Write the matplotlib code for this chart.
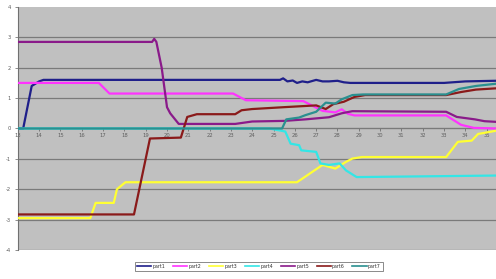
import matplotlib
matplotlib.use("Agg")
import matplotlib.pyplot as plt

series_names = ["part1", "part2", "part3", "part4", "part5", "part6", "part7"]
series_colors = ["#1f1f8a", "#ff33ff", "#ffff33", "#33e6e6", "#8a1a8a", "#8a1a1a", "#2a9090"]

part1_x = [13, 13.25, 13.65, 14.0, 14.2, 25.3, 25.45, 25.65, 25.9, 26.1, 26.35, 26.6, 27.0, 27.3, 27.6, 28.0, 28.3, 28.6, 33.0, 34.0, 35.4]
part1_y = [0, 0, 1.4, 1.55, 1.6, 1.6, 1.65, 1.55, 1.58, 1.5, 1.55, 1.52, 1.6, 1.55, 1.55, 1.57, 1.52, 1.5, 1.5, 1.55, 1.57]

part2_x = [13, 16.8, 17.3, 23.1, 23.7, 26.4, 27.3, 27.9, 28.2, 28.5, 28.8, 33.1, 33.8, 34.4, 35.4]
part2_y = [1.5, 1.5, 1.15, 1.15, 0.93, 0.9, 0.58, 0.53, 0.63, 0.48, 0.43, 0.43, 0.12, 0.02, 0.0]

part3_x = [13, 16.4, 16.65, 17.5, 17.65, 18.05, 26.1, 27.3, 27.9, 28.4, 28.7, 29.15, 33.1, 33.65, 34.3, 34.6, 35.4]
part3_y = [-2.95, -2.95, -2.45, -2.45, -2.0, -1.77, -1.77, -1.2, -1.32, -1.1, -0.99, -0.94, -0.94, -0.44, -0.4, -0.18, -0.08]

part4_x = [13, 24.8, 25.4, 25.55, 25.8, 26.2, 26.3, 27.0, 27.2, 27.6, 28.1, 28.4, 28.9, 35.4]
part4_y = [0, 0, -0.08, -0.1, -0.5, -0.55, -0.72, -0.77, -1.15, -1.2, -1.15, -1.38, -1.6, -1.55]

part5_x = [13, 19.3, 19.4, 19.5, 19.75, 20.0, 20.15, 20.55, 23.2, 24.0, 25.5, 26.5, 27.6, 28.2, 28.7, 33.1, 33.6, 34.45, 34.9, 35.4]
part5_y = [2.85, 2.85, 2.95, 2.85, 2.0, 0.7, 0.5, 0.15, 0.15, 0.23, 0.25, 0.3, 0.37, 0.5, 0.57, 0.55, 0.38, 0.3, 0.24, 0.22]

part6_x = [13, 18.45, 19.2, 20.65, 20.95, 21.4, 23.2, 23.5, 24.0, 25.7, 27.0, 27.45, 27.8, 28.3, 28.8, 29.3, 33.1, 33.8, 34.5, 35.4]
part6_y = [-2.83, -2.83, -0.33, -0.3, 0.38, 0.47, 0.47, 0.6, 0.64, 0.71, 0.76, 0.64, 0.8, 0.88, 1.04, 1.1, 1.1, 1.2, 1.28, 1.32]

part7_x = [13, 25.4, 25.6, 26.2, 26.5, 27.0, 27.45, 27.9, 28.2, 28.7, 29.2, 33.1, 33.7, 34.5, 35.4]
part7_y = [0, 0, 0.3, 0.36, 0.44, 0.55, 0.85, 0.82, 0.96, 1.1, 1.12, 1.12, 1.3, 1.4, 1.47]

x_ticks = list(range(13, 36))
y_ticks = list(range(-4, 5))

all_x = [part1_x, part2_x, part3_x, part4_x, part5_x, part6_x, part7_x]
all_y = [part1_y, part2_y, part3_y, part4_y, part5_y, part6_y, part7_y]

fig = plt.figure(figsize=(4.96, 2.79), dpi=100)
ax = fig.add_axes([0.036, 0.104, 0.964, 0.871])
ax.set_facecolor("#c0c0c0")

for yv in y_ticks[:-1]:
    ax.axhline(yv, color="#7a7a7a", lw=0.9, zorder=1)

for xs, ys, c, n in zip(all_x, all_y, series_colors, series_names):
    ax.plot(xs, ys, color=c, lw=1.6, label=n, zorder=3, solid_joinstyle="round")

ax.set_xlim(13, 35.44)
ax.set_ylim(-4, 4)
ax.set_xticks(x_ticks)
ax.set_xticklabels([str(v) for v in x_ticks])
ax.set_yticks(y_ticks)
ax.set_yticklabels([str(v) for v in y_ticks])

for s in ["top", "right"]:
    ax.spines[s].set_visible(False)
ax.spines["bottom"].set_position(("data", 0))
ax.spines["bottom"].set_color("#7a7a7a")
ax.spines["bottom"].set_linewidth(0.8)
ax.spines["left"].set_color("#707070")
ax.spines["left"].set_linewidth(0.8)
ax.tick_params(axis="x", labelsize=3.8, colors="#606060", length=2, width=0.5, pad=1.5, direction="out")
ax.tick_params(axis="y", labelsize=3.8, colors="#606060", length=2, width=0.5, pad=3)

leg = fig.legend(loc="center", bbox_to_anchor=(0.522, 0.045), ncol=7, fontsize=3.4,
                 handlelength=3.0, handletextpad=0.3, columnspacing=1.6, frameon=True,
                 fancybox=False, borderpad=0.5)
leg.get_frame().set_edgecolor("#333333")
leg.get_frame().set_linewidth(0.5)
for line in leg.get_lines():
    line.set_linewidth(1.2)
for t in leg.get_texts():
    t.set_color("#333333")

fig.savefig("out.png", dpi=100)
